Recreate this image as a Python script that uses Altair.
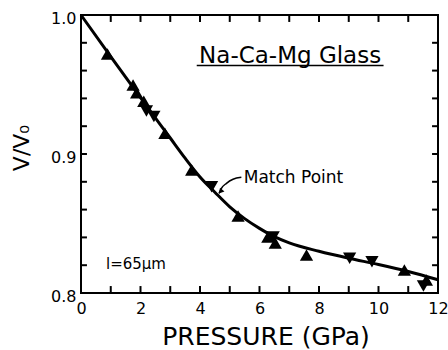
import altair as alt
import pandas as pd

# ---- data ----
curve_p = [0, 1, 2, 3, 3.5, 4, 4.5, 5, 5.5, 6, 6.5, 7, 8, 9, 10, 11, 12]
curve_v = [1.000, 0.970, 0.9405, 0.9115, 0.897, 0.8835, 0.8725, 0.862, 0.8535, 0.8465,
           0.8405, 0.836, 0.830, 0.825, 0.8205, 0.8155, 0.8095]

up_p = [0.89, 1.75, 1.87, 2.11, 2.82, 3.72, 5.28, 6.28, 6.53, 7.58, 10.87, 11.61]
up_v = [0.972, 0.9496, 0.944, 0.938, 0.915, 0.8885, 0.8554, 0.8403, 0.836, 0.8273, 0.8165, 0.8094]

down_p = [2.20, 2.45, 4.39, 6.46, 9.03, 9.78, 11.51]
down_v = [0.931, 0.927, 0.8765, 0.8403, 0.825, 0.8225, 0.8051]

x_label_values = [0, 2, 4, 6, 8, 10, 12]
y_label_values = [0.8, 0.9, 1.0]
x_tick_values = [0, 1, 2, 3, 4, 5, 6, 7, 8, 9, 10, 11, 12]
y_tick_values = [0.80, 0.82, 0.84, 0.86, 0.88, 0.90, 0.92, 0.94, 0.96, 0.98, 1.00]

# annotations (data coordinates)
title_text = ["Na-Ca-Mg Glass"]
title_p = [7.03]
title_v = [0.9655]
underline_p = [3.89]
underline_p2 = [10.17]
underline_v = [0.9637]

match_text = ["Match Point"]
match_p = [5.47]
match_v = [0.8788]
arrow_p = [5.39, 5.11, 4.89, 4.72, 4.64]
arrow_v = [0.8832, 0.8818, 0.8789, 0.8753, 0.8717]
arrowhead_p = [4.69]
arrowhead_v = [0.873]

thick_text = ["l=65μm"]
thick_p = [0.84]
thick_v = [0.8173]

W, H = 357, 278
FONT = "DejaVu Sans"
X_MIN, X_MAX, Y_MIN, Y_MAX = 0, 12, 0.8, 1.0
TICK_LEN_X = 0.2     # length of inward ticks on the left/right edges (x units)
TICK_LEN_Y = 0.005   # length of inward ticks on the top/bottom edges (y units)

xs = alt.Scale(domain=[X_MIN, X_MAX], nice=False, zero=False)
ys = alt.Scale(domain=[Y_MIN, Y_MAX], nice=False, zero=False)

curve_df = pd.DataFrame({"p": curve_p, "v": curve_v})
up_df = pd.DataFrame({"p": up_p, "v": up_v})
down_df = pd.DataFrame({"p": down_p, "v": down_v})
xt_df = pd.DataFrame({"p": x_tick_values})
yt_df = pd.DataFrame({"v": y_tick_values})

# main labelled axes (labels + titles only)
curve = alt.Chart(curve_df).mark_line(color="black", strokeWidth=3, interpolate="monotone").encode(
    x=alt.X("p:Q", scale=xs, axis=alt.Axis(
        orient="bottom", values=x_label_values, format="d", ticks=False, domain=False, grid=False,
        labelFontSize=16, labelPadding=7, labelFlush=False, labelOverlap=False,
        labelColor="black", labelFont=FONT,
        title="PRESSURE (GPa)", titleFontSize=25, titleFontWeight="normal", titleColor="black",
        titleFont=FONT, titleX=184.5, titleY=51, titleBaseline="alphabetic", titleAlign="center")),
    y=alt.Y("v:Q", scale=ys, axis=alt.Axis(
        orient="left", values=y_label_values, format=".1f", ticks=False, domain=False, grid=False,
        labelFontSize=16, labelPadding=5, labelOffset=3, labelFlush=False, labelOverlap=False,
        labelColor="black", labelFont=FONT, labelBaseline="middle",
        title="V/V₀", titleFontSize=22, titleFontWeight="normal", titleColor="black", titleFont=FONT,
        titleX=-53, titleY=132.5, titleAngle=270, titleBaseline="alphabetic", titleAlign="center")),
)

ups = alt.Chart(up_df).mark_point(shape="triangle-up", filled=True, color="black", size=175, opacity=1).encode(
    x=alt.X("p:Q", scale=xs, axis=None), y=alt.Y("v:Q", scale=ys, axis=None))

downs = alt.Chart(down_df).mark_point(shape="triangle-down", filled=True, color="black", size=175, opacity=1).encode(
    x=alt.X("p:Q", scale=xs, axis=None), y=alt.Y("v:Q", scale=ys, axis=None))

title = alt.Chart(pd.DataFrame({"p": title_p, "v": title_v, "t": title_text})).mark_text(
    font=FONT, fontSize=23, align="center", baseline="alphabetic", color="black").encode(
    x=alt.X("p:Q", scale=xs, axis=None), y=alt.Y("v:Q", scale=ys, axis=None), text="t:N")

underline = alt.Chart(pd.DataFrame({"p": underline_p, "p2": underline_p2, "v": underline_v})).mark_rule(
    color="black", strokeWidth=1.5).encode(
    x=alt.X("p:Q", scale=xs, axis=None), x2="p2:Q", y=alt.Y("v:Q", scale=ys, axis=None))

match = alt.Chart(pd.DataFrame({"p": match_p, "v": match_v, "t": match_text})).mark_text(
    font=FONT, fontSize=17, align="left", baseline="alphabetic", color="black").encode(
    x=alt.X("p:Q", scale=xs, axis=None), y=alt.Y("v:Q", scale=ys, axis=None), text="t:N")

arrow = alt.Chart(pd.DataFrame({"p": arrow_p, "v": arrow_v})).mark_line(
    color="black", strokeWidth=1.5, interpolate="monotone").encode(
    x=alt.X("p:Q", scale=xs, axis=None), y=alt.Y("v:Q", scale=ys, axis=None))

arrowhead = alt.Chart(pd.DataFrame({"p": arrowhead_p, "v": arrowhead_v})).mark_point(
    shape="triangle-up", filled=True, color="black", size=35, angle=222, opacity=1).encode(
    x=alt.X("p:Q", scale=xs, axis=None), y=alt.Y("v:Q", scale=ys, axis=None))

thick = alt.Chart(pd.DataFrame({"p": thick_p, "v": thick_v, "t": thick_text})).mark_text(
    font=FONT, fontSize=15, align="left", baseline="alphabetic", color="black").encode(
    x=alt.X("p:Q", scale=xs, axis=None), y=alt.Y("v:Q", scale=ys, axis=None), text="t:N")

# inward tick marks on all four sides of the frame
bottom_ticks = alt.Chart(xt_df).mark_rule(color="black", strokeWidth=2).encode(
    x=alt.X("p:Q", scale=xs, axis=None),
    y=alt.YDatum(Y_MIN, type="quantitative", scale=ys, axis=None),
    y2=alt.Y2Datum(Y_MIN + TICK_LEN_Y))
top_ticks = alt.Chart(xt_df).mark_rule(color="black", strokeWidth=2).encode(
    x=alt.X("p:Q", scale=xs, axis=None),
    y=alt.YDatum(Y_MAX, type="quantitative", scale=ys, axis=None),
    y2=alt.Y2Datum(Y_MAX - TICK_LEN_Y))
left_ticks = alt.Chart(yt_df).mark_rule(color="black", strokeWidth=2).encode(
    y=alt.Y("v:Q", scale=ys, axis=None),
    x=alt.XDatum(X_MIN, type="quantitative", scale=xs, axis=None),
    x2=alt.X2Datum(X_MIN + TICK_LEN_X))
right_ticks = alt.Chart(yt_df).mark_rule(color="black", strokeWidth=2).encode(
    y=alt.Y("v:Q", scale=ys, axis=None),
    x=alt.XDatum(X_MAX, type="quantitative", scale=xs, axis=None),
    x2=alt.X2Datum(X_MAX - TICK_LEN_X))

chart = alt.layer(
    curve, ups, downs, title, underline, match, arrow, arrowhead, thick,
    bottom_ticks, top_ticks, left_ticks, right_ticks
).resolve_axis(
    x="independent", y="independent"
).properties(
    width=W, height=H,
    autosize=alt.AutoSizeParams(type="none"),
    padding={"left": 81, "top": 15, "right": 10, "bottom": 57},
    background="white",
).configure_view(
    stroke="black", strokeWidth=2
)

chart.save("out.html", embed_options={"renderer": "svg", "actions": False})
